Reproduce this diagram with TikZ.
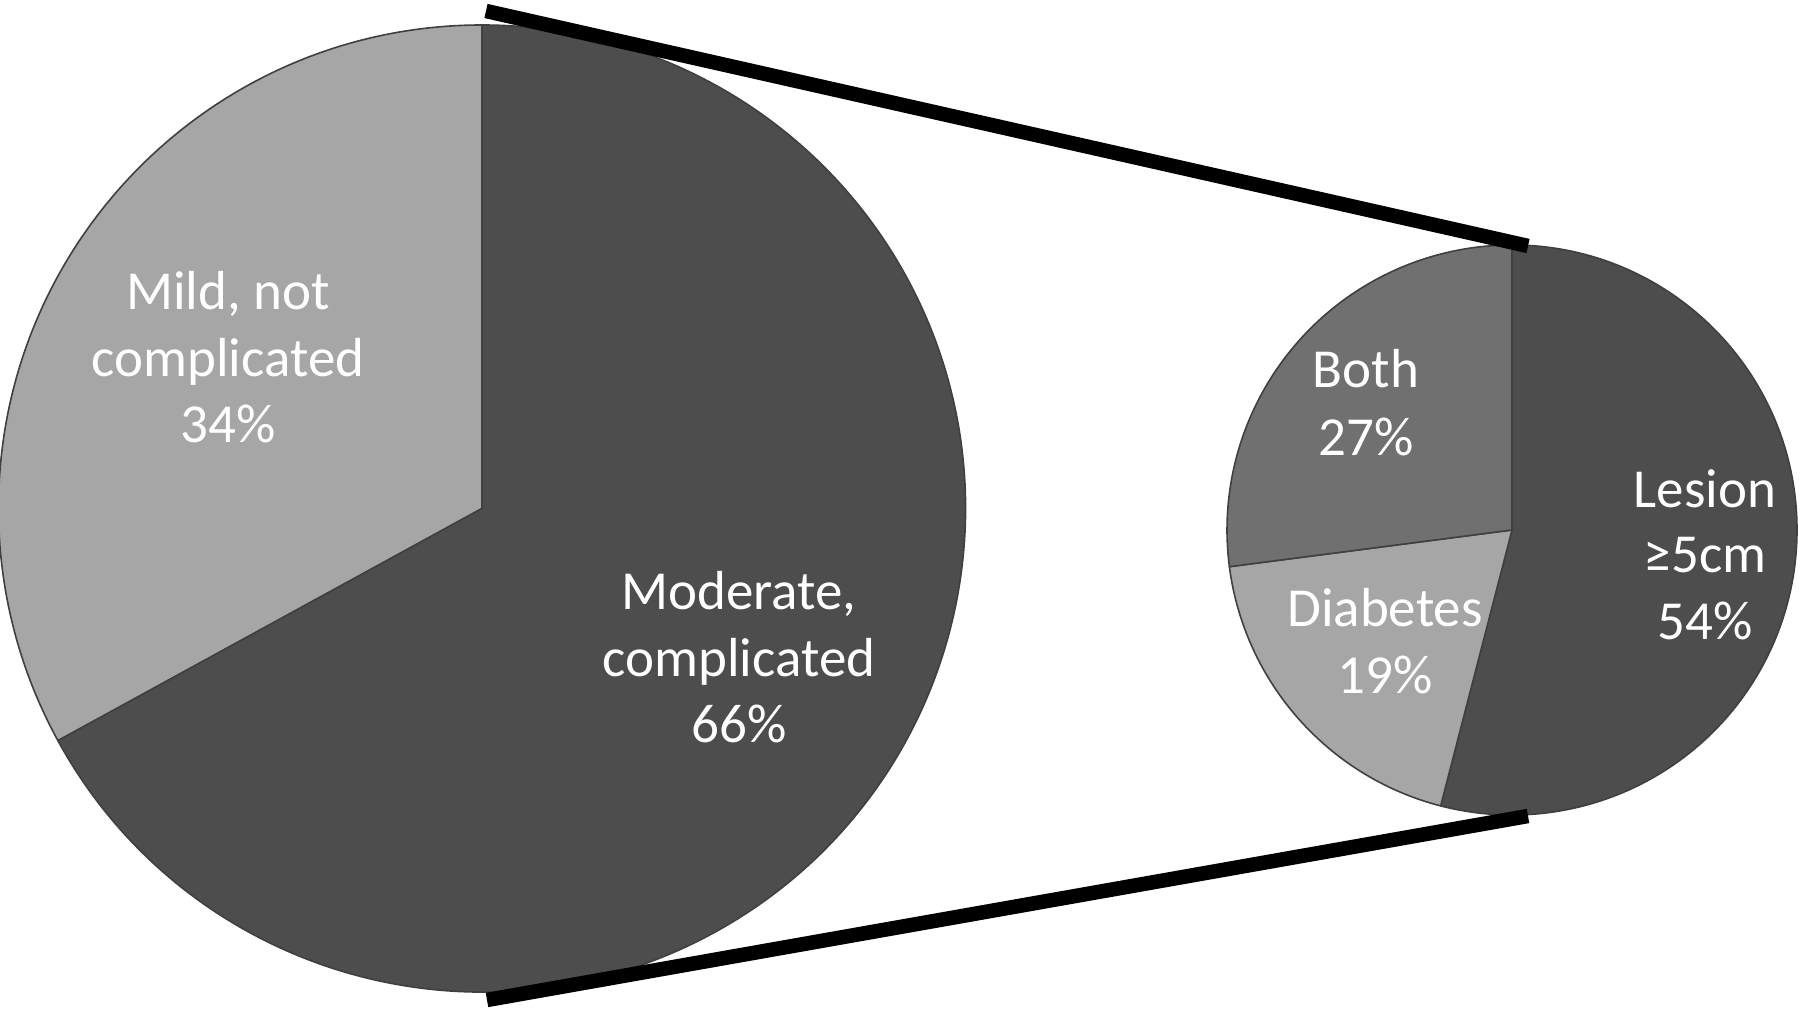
\documentclass[tikz,border=0pt]{standalone}
\usepackage{fontspec}
\setmainfont{Carlito}
\begin{document}
\begin{tikzpicture}[x=1pt,y=1pt,
  slice/.style={draw=black!75,line width=1.6pt,line join=round},
  lbl/.style={text=white,anchor=base,inner sep=0pt,font=\fontsize{55pt}{67pt}\selectfont},
  zoomline/.style={line width=14.5pt,line cap=butt,black}]
\definecolor{lightslice}{HTML}{A6A6A6}
\definecolor{darkslice}{HTML}{4D4D4D}
\definecolor{midslice}{HTML}{707070}
\useasboundingbox (0,0) rectangle (1800,1009);
% big pie
\coordinate (bigC) at (482,500.5);
\filldraw[slice,fill=lightslice] (bigC) -- ++(90:483.5) arc[start angle=90,end angle=208.7,radius=483.5] -- cycle;
\filldraw[slice,fill=darkslice] (bigC) -- ++(208.7:483.5) arc[start angle=208.7,end angle=450,radius=483.5] -- cycle;
% small pie
\coordinate (smallC) at (1512,479);
\filldraw[slice,fill=darkslice] (smallC) -- ++(90:285) arc[start angle=90,end angle=-104.5,radius=285] -- cycle;
\filldraw[slice,fill=lightslice] (smallC) -- ++(-104.5:285) arc[start angle=-104.5,end angle=-172.6,radius=285] -- cycle;
\filldraw[slice,fill=midslice] (smallC) -- ++(187.4:285) arc[start angle=187.4,end angle=90,radius=285] -- cycle;
% labels
\node[lbl] (mild1) at (228,699) {Mild, not};
\node[lbl] (mild2) at (228,632) {complicated};
\node[lbl] (mild3) at (228,566) {34\%};
\node[lbl] (mod1) at (739,399) {Moderate,};
\node[lbl] (mod2) at (739,332) {complicated};
\node[lbl] (mod3) at (739,266) {66\%};
\node[lbl] (both1) at (1366,621) {Both};
\node[lbl] (both2) at (1366,553) {27\%};
\node[lbl] (dia1) at (1385,382) {Diabetes};
\node[lbl] (dia2) at (1385,315) {19\%};
\node[lbl] (les1) at (1705,501) {Lesion};
\node[lbl] (les2) at (1705,436) {≥5cm};
\node[lbl] (les3) at (1705,369) {54\%};
% zoom connectors
\coordinate (tA) at (486,998);
\coordinate (tB) at (1528,763);
\coordinate (bA) at (487,9);
\coordinate (bB) at (1528,193);
\draw[zoomline] (tA) -- (tB);
\draw[zoomline] (bA) -- (bB);
\end{tikzpicture}
\end{document}
